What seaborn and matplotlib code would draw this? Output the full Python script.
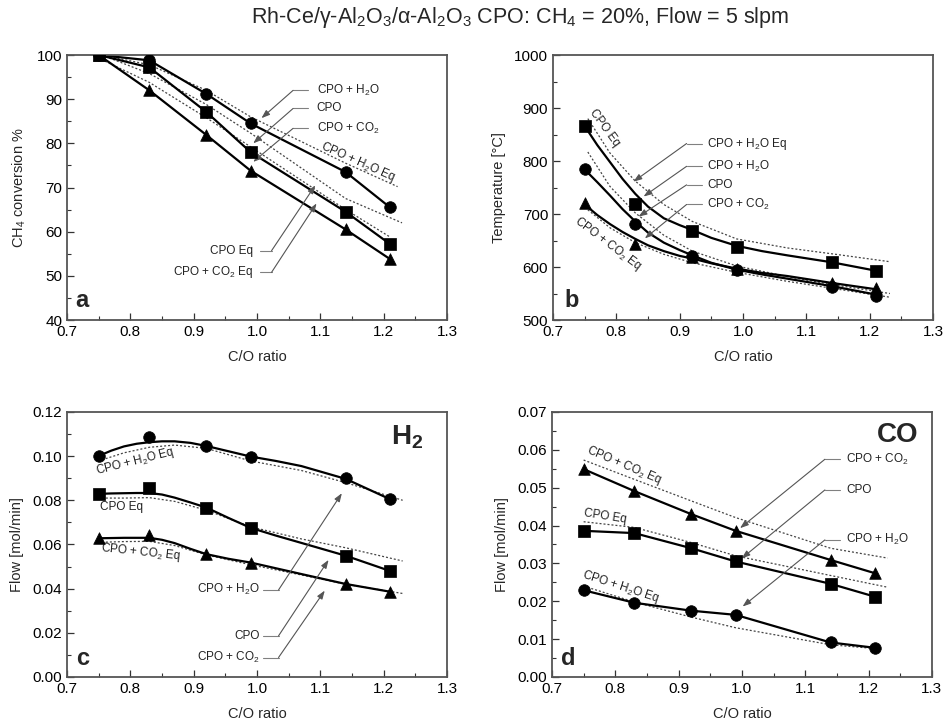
import numpy as np
import pandas as pd
import matplotlib
matplotlib.use("Agg")
import matplotlib.pyplot as plt
import seaborn as sns

# ---------------- data ----------------
co_ratio = [0.75, 0.83, 0.92, 0.99, 1.14, 1.21]

# panel a: CH4 conversion %
a_h2o = [100, 98.8, 91.2, 84.5, 73.5, 65.5]
a_cpo = [100, 97.2, 87.1, 78.0, 64.5, 57.2]
a_co2 = [100, 92.0, 81.9, 73.8, 60.5, 53.8]
a_eq_h2o_x = [0.755, 0.83, 0.92, 0.99, 1.14, 1.222]
a_eq_h2o_y = [100, 97.8, 92.0, 86.0, 75.5, 70.2]
a_eq_cpo_x = [0.755, 0.83, 0.92, 0.99, 1.14, 1.229]
a_eq_cpo_y = [100, 95.8, 88.8, 82.3, 67.5, 62.0]
a_eq_co2_x = [0.76, 0.83, 0.92, 0.99, 1.14, 1.21]
a_eq_co2_y = [98.6, 93.8, 85.8, 79.2, 65.0, 58.8]

# panel b: temperature
b_cpo = [866, 718, 668, 637, 609, 593]
b_h2o = [784, 681, 621, 594, 563, 545]
b_co2 = [720, 643, 618, 597, 570, 560]
b_fit_x = [0.75, 0.77, 0.79, 0.81, 0.83, 0.85, 0.875, 0.90, 0.92, 0.95, 0.99, 1.03, 1.07, 1.14, 1.21]
b_fit_cpo = [866, 830, 798, 766, 738, 714, 692, 679, 670, 655, 640, 630, 622, 609, 593]
b_fit_h2o = [784, 760, 735, 709, 686, 665, 646, 632, 622, 608, 595, 586, 578, 564, 548]
b_fit_co2 = [718, 698, 681, 666, 653, 641, 630, 621, 616, 607, 597, 589, 583, 570, 558]
b_eq_x = [0.755, 0.79, 0.83, 0.875, 0.92, 0.99, 1.07, 1.14, 1.232]
b_eq_cpo = [880, 815, 762, 718, 686, 653, 636, 625, 610]
b_eq_h2o = [817, 752, 702, 660, 630, 602, 582, 567, 550]
b_eq_co2 = [708, 674, 646, 624, 608, 590, 573, 560, 543]

# panel c: H2 flow
c_h2o = [0.1001, 0.1086, 0.1046, 0.0998, 0.0900, 0.0805]
c_cpo = [0.0829, 0.0854, 0.0767, 0.0673, 0.0549, 0.0480]
c_co2 = [0.0628, 0.0643, 0.0556, 0.0518, 0.0421, 0.0386]
c_fit_x = [0.75, 0.77, 0.79, 0.81, 0.83, 0.85, 0.87, 0.895, 0.92, 0.955, 0.99, 1.03, 1.07, 1.14, 1.21]
c_fit_h2o = [0.1001, 0.1025, 0.1044, 0.1056, 0.1063, 0.1067, 0.1067, 0.1060, 0.1046, 0.1022, 0.0998, 0.0978, 0.0955, 0.0897, 0.0805]
c_fit_cpo = [0.0829, 0.0831, 0.0832, 0.0833, 0.0833, 0.0826, 0.0812, 0.0790, 0.0767, 0.0720, 0.0675, 0.0640, 0.0607, 0.0549, 0.0480]
c_fit_co2 = [0.0628, 0.0629, 0.0630, 0.0630, 0.0630, 0.0621, 0.0606, 0.0580, 0.0556, 0.0535, 0.0518, 0.0492, 0.0466, 0.0421, 0.0386]
c_eq_x = [0.755, 0.79, 0.83, 0.87, 0.92, 0.99, 1.07, 1.14, 1.23]
c_eq_h2o = [0.0983, 0.1015, 0.1040, 0.1050, 0.1035, 0.0978, 0.0935, 0.0880, 0.0800]
c_eq_cpo = [0.0810, 0.0810, 0.0812, 0.0795, 0.0755, 0.0680, 0.0625, 0.0585, 0.0525]
c_eq_co2 = [0.0610, 0.0613, 0.0614, 0.0595, 0.0553, 0.0508, 0.0462, 0.0420, 0.0378]

# panel d: CO flow
d_co2 = [0.0549, 0.0491, 0.0430, 0.0386, 0.0309, 0.0274]
d_cpo = [0.0386, 0.0380, 0.0340, 0.0305, 0.0246, 0.0212]
d_h2o = [0.0229, 0.0196, 0.0175, 0.0164, 0.0091, 0.0077]
d_eq_x = [0.75, 0.83, 0.92, 0.99, 1.14, 1.23]
d_eq_co2 = [0.0573, 0.0522, 0.0465, 0.0421, 0.0340, 0.0314]
d_eq_cpo = [0.0410, 0.0395, 0.0355, 0.0320, 0.0268, 0.0237]
d_eq_h2o_x = [0.75, 0.83, 0.92, 0.99, 1.14, 1.21]
d_eq_h2o = [0.0240, 0.0198, 0.0158, 0.0130, 0.0085, 0.0075]

title = "Rh-Ce/γ-Al$_2$O$_3$/α-Al$_2$O$_3$ CPO: CH$_4$ = 20%, Flow = 5 slpm"

# ---------------- style ----------------
sns.set_style("ticks")
plt.rcParams["font.family"] = ["Liberation Sans", "DejaVu Sans"]
plt.rcParams["mathtext.fontset"] = "custom"
plt.rcParams["mathtext.rm"] = "Liberation Sans"
plt.rcParams["mathtext.it"] = "Liberation Sans:italic"
plt.rcParams["mathtext.bf"] = "Liberation Sans:bold"
plt.rcParams["mathtext.sf"] = "Liberation Sans"

fig = plt.figure(figsize=(9.44, 7.24), dpi=100)
W = 0.4025
H = 0.366
ax_a = fig.add_axes([0.071, 0.558, W, H])
ax_b = fig.add_axes([0.5858, 0.558, W, H])
ax_c = fig.add_axes([0.071, 0.065, W, H])
ax_d = fig.add_axes([0.5847, 0.065, W, H])

fig.text(0.551, 0.976, title, ha="center", va="center", fontsize=15.5)

LINE_KW = dict(color="black", lw=1.6, estimator=None, sort=False, legend=False)
EQ_KW = dict(color="#444444", lw=0.9, estimator=None, sort=False, legend=False)
MARK = {"h2o": "o", "cpo": "s", "co2": "^"}


def series(ax, fit_x, fit_y, mk_y, key):
    sns.lineplot(x=fit_x, y=fit_y, ax=ax, **LINE_KW)
    sns.scatterplot(x=co_ratio, y=mk_y, ax=ax, marker=MARK[key], s=70,
                    color="black", edgecolor="black", linewidth=0.5,
                    zorder=5, legend=False)


def eq(ax, x, y):
    sns.lineplot(x=x, y=y, ax=ax, linestyle=(0, (1.6, 1.6)), **EQ_KW)


def callout(ax, label, tx, ty, ha, lx0, bx, tip):
    ax.text(tx, ty, label, ha=ha, va="center", fontsize=8.5, color="#222222")
    ax.plot([lx0, bx], [ty, ty], color="#808080", lw=0.8)
    ax.annotate("", xy=tip, xytext=(bx, ty),
                arrowprops=dict(arrowstyle="-|>,head_length=0.5,head_width=0.18",
                                color="#555555", lw=0.8, shrinkA=0, shrinkB=0))


def style_axes(ax, ylim, ymaj, ymin, yfmt, ylabel):
    ax.set_xlim(0.7, 1.3)
    ax.set_ylim(*ylim)
    ax.set_xticks(np.arange(0.7, 1.3001, 0.1))
    ax.set_xticks(np.arange(0.75, 1.3, 0.1), minor=True)
    ax.set_xticklabels([f"{v:.1f}" for v in np.arange(0.7, 1.3001, 0.1)])
    yt = np.arange(ylim[0], ylim[1] + ymaj * 0.01, ymaj)
    ax.set_yticks(yt)
    ax.set_yticks(np.arange(ylim[0] + ymin, ylim[1], ymaj), minor=True)
    ax.set_yticklabels([yfmt.format(v) for v in yt])
    ax.tick_params(which="major", direction="in", length=5, width=0.9,
                   labelsize=11, colors="#333333", labelcolor="black")
    ax.tick_params(which="minor", direction="in", length=3, width=0.8,
                   colors="#333333")
    for sp in ax.spines.values():
        sp.set_visible(True)
        sp.set_color("#555555")
        sp.set_linewidth(1.3)
    ax.set_xlabel("C/O ratio", fontsize=10.5, labelpad=8)
    ax.set_ylabel(ylabel, fontsize=10.5, labelpad=6)


# ---------------- panel a ----------------
ax = ax_a
eq(ax, a_eq_h2o_x, a_eq_h2o_y)
eq(ax, a_eq_cpo_x, a_eq_cpo_y)
eq(ax, a_eq_co2_x, a_eq_co2_y)
series(ax, co_ratio, a_h2o, a_h2o, "h2o")
series(ax, co_ratio, a_cpo, a_cpo, "cpo")
series(ax, co_ratio, a_co2, a_co2, "co2")
style_axes(ax, (40, 100), 10, 5, "{:.0f}", r"CH$_4$ conversion %")
callout(ax, r"CPO + H$_2$O", 1.094, 92.0, "left", 1.081, 1.057, (1.007, 85.7))
callout(ax, "CPO", 1.094, 87.9, "left", 1.081, 1.057, (0.994, 80.0))
callout(ax, r"CPO + CO$_2$", 1.094, 83.4, "left", 1.081, 1.057, (0.994, 75.8))
callout(ax, "CPO Eq", 0.994, 55.7, "right", 1.005, 1.023, (1.092, 70.5))
callout(ax, r"CPO + CO$_2$ Eq", 0.994, 50.8, "right", 1.005, 1.023, (1.094, 66.4))
ax.text(1.16, 75.8, r"CPO + H$_2$O Eq", rotation=-24, ha="center", va="center",
        fontsize=8.5, color="#222222", rotation_mode="anchor")
ax.text(0.713, 44.5, "a", fontsize=17, fontweight="bold", ha="left", va="center")

# ---------------- panel b ----------------
ax = ax_b
eq(ax, b_eq_x, b_eq_cpo)
eq(ax, b_eq_x, b_eq_h2o)
eq(ax, b_eq_x, b_eq_co2)
series(ax, b_fit_x, b_fit_cpo, b_cpo, "cpo")
series(ax, b_fit_x, b_fit_h2o, b_h2o, "h2o")
series(ax, b_fit_x, b_fit_co2, b_co2, "co2")
style_axes(ax, (500, 1000), 100, 50, "{:.0f}", "Temperature [°C]")
callout(ax, r"CPO + H$_2$O Eq", 0.943, 833, "left", 0.935, 0.911, (0.827, 761))
callout(ax, r"CPO + H$_2$O", 0.943, 790, "left", 0.935, 0.911, (0.843, 733))
callout(ax, "CPO", 0.943, 755, "left", 0.935, 0.911, (0.835, 695))
callout(ax, r"CPO + CO$_2$", 0.943, 718, "left", 0.935, 0.911, (0.845, 654))
ax.text(0.782, 862, "CPO Eq", rotation=-54, ha="center", va="center",
        fontsize=8.5, color="#222222", rotation_mode="anchor")
ax.text(0.787, 643, r"CPO + CO$_2$ Eq", rotation=-37, ha="center", va="center",
        fontsize=8.5, color="#222222", rotation_mode="anchor")
ax.text(0.718, 537, "b", fontsize=17, fontweight="bold", ha="left", va="center")

# ---------------- panel c ----------------
ax = ax_c
eq(ax, c_eq_x, c_eq_h2o)
eq(ax, c_eq_x, c_eq_cpo)
eq(ax, c_eq_x, c_eq_co2)
series(ax, c_fit_x, c_fit_h2o, c_h2o, "h2o")
series(ax, c_fit_x, c_fit_cpo, c_cpo, "cpo")
series(ax, c_fit_x, c_fit_co2, c_co2, "co2")
style_axes(ax, (0, 0.12), 0.02, 0.01, "{:.2f}", "Flow [mol/min]")
callout(ax, r"CPO + H$_2$O", 1.005, 0.0394, "right", 1.010, 1.034, (1.134, 0.0832))
callout(ax, "CPO", 1.005, 0.0186, "right", 1.010, 1.034, (1.113, 0.0530))
callout(ax, r"CPO + CO$_2$", 1.005, 0.0088, "right", 1.010, 1.034, (1.107, 0.0391))
ax.text(0.807, 0.0975, r"CPO + H$_2$O Eq", rotation=14, ha="center", va="center",
        fontsize=8.5, color="#222222", rotation_mode="anchor")
ax.text(0.752, 0.0771, "CPO Eq", ha="left", va="center", fontsize=8.5, color="#222222")
ax.text(0.816, 0.0563, r"CPO + CO$_2$ Eq", rotation=-6, ha="center", va="center",
        fontsize=8.5, color="#222222", rotation_mode="anchor")
ax.text(1.262, 0.1085, r"H$_\mathbf{2}$", fontsize=20, fontweight="bold",
        ha="right", va="center")
ax.text(0.714, 0.0085, "c", fontsize=17, fontweight="bold", ha="left", va="center")

# ---------------- panel d ----------------
ax = ax_d
eq(ax, d_eq_x, d_eq_co2)
eq(ax, d_eq_x, d_eq_cpo)
eq(ax, d_eq_h2o_x, d_eq_h2o)
series(ax, co_ratio, d_co2, d_co2, "co2")
series(ax, co_ratio, d_cpo, d_cpo, "cpo")
series(ax, co_ratio, d_h2o, d_h2o, "h2o")
style_axes(ax, (0, 0.07), 0.01, 0.005, "{:.2f}", "Flow [mol/min]")
callout(ax, r"CPO + CO$_2$", 1.165, 0.0575, "left", 1.155, 1.131, (0.997, 0.0393))
callout(ax, "CPO", 1.165, 0.0494, "left", 1.155, 1.131, (0.9995, 0.0313))
callout(ax, r"CPO + H$_2$O", 1.165, 0.0362, "left", 1.155, 1.131, (1.001, 0.0186))
ax.text(0.814, 0.0560, r"CPO + CO$_2$ Eq", rotation=-23, ha="center", va="center",
        fontsize=8.5, color="#222222", rotation_mode="anchor")
ax.text(0.784, 0.0423, "CPO Eq", rotation=-9, ha="center", va="center",
        fontsize=8.5, color="#222222", rotation_mode="anchor")
ax.text(0.8085, 0.0239, r"CPO + H$_2$O Eq", rotation=-18, ha="center", va="center",
        fontsize=8.5, color="#222222", rotation_mode="anchor")
ax.text(1.278, 0.0640, "CO", fontsize=20, fontweight="bold", ha="right", va="center")
ax.text(0.714, 0.0050, "d", fontsize=17, fontweight="bold", ha="left", va="center")

fig.savefig("out.png", dpi=100)
